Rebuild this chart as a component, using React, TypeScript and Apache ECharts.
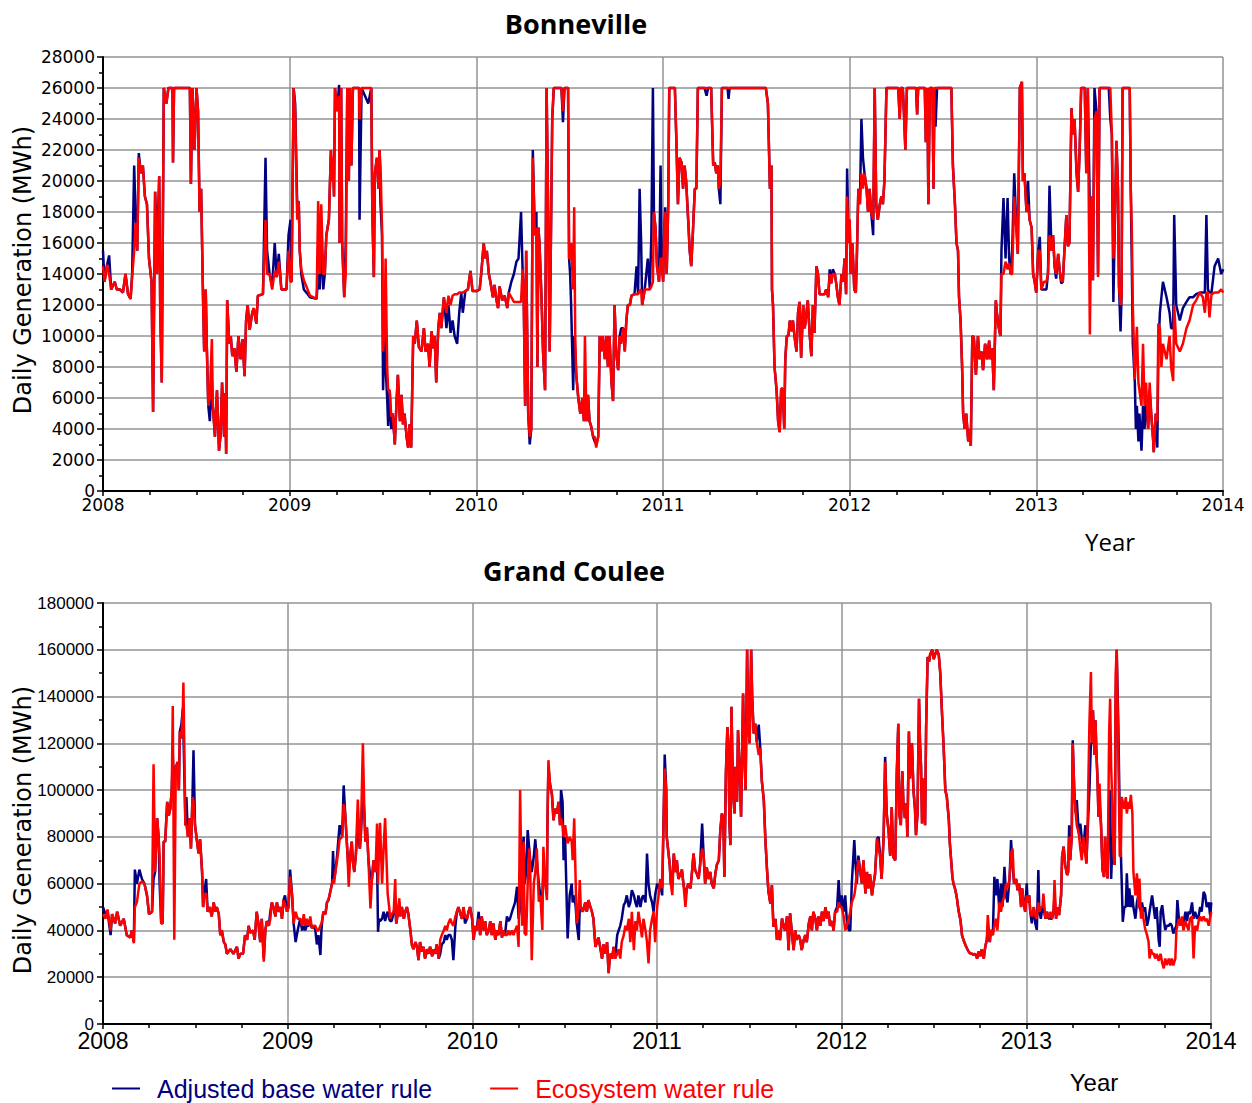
import React, { useEffect, useRef } from "react";
import * as echarts from "echarts";

// x ticks (years)
const yearTicks = [2008, 2009, 2010, 2011, 2012, 2013, 2014];
const BASE_NAME = "Adjusted base water rule";
const ECO_NAME = "Ecosystem water rule";

// Bonneville daily generation (MWh): [day since 2008-01-01, adjusted base, ecosystem]
const bon2008 = [
  [0, 15500, 14500], [3, 13500, 13500], [8, 14600, 14600], [12, 15200, 14000], [16, 13000, 13000],
  [23, 13500, 13500], [27, 13000, 13000], [33, 13000, 13000], [39, 12800, 12800], [44, 14000, 14000],
  [49, 12700, 12700], [54, 12400, 12400], [57, 14000, 13800], [61, 21000, 15500], [64, 17500, 17300],
  [67, 15500, 15500], [70, 21800, 21500], [74, 20500, 20500], [78, 21000, 21000], [82, 19000, 19000],
  [86, 18500, 18500], [90, 15000, 15000], [95, 13500, 13500], [98, 5100, 5100], [102, 19300, 19300],
  [106, 15700, 14000], [110, 20300, 20300], [112, 12000, 11000], [115, 7000, 7000], [119, 26000, 26000],
  [124, 25000, 25000], [128, 26000, 26000], [136, 26000, 26000], [137, 21200, 21200], [139, 26000, 26000],
  [170, 26000, 26000], [172, 19800, 19800], [175, 26000, 26000], [179, 22000, 22000], [183, 26000, 26000],
  [186, 24500, 24500], [189, 18000, 18000], [192, 19500, 19500], [196, 12000, 12000], [198, 9000, 9000],
  [201, 13000, 13000], [203, 9500, 9500], [206, 5500, 5500], [209, 4500, 6000], [213, 7000, 9800],
  [215, 5500, 5500], [219, 3500, 3500], [223, 6500, 6500], [227, 2600, 2600], [230, 3600, 3600],
  [233, 7000, 7000], [237, 3500, 3500], [239, 6300, 6300], [241, 2400, 2400], [243, 12300, 12300],
  [247, 9500, 9500], [250, 10000, 10000], [253, 8700, 8700], [257, 9200, 9200], [261, 7700, 7700],
  [265, 10000, 10000], [269, 8500, 8500], [273, 9800, 9800], [277, 7400, 7400], [280, 11000, 11000],
  [283, 12000, 12000], [287, 10400, 10400], [292, 11500, 11500], [295, 11800, 11800], [300, 10800, 10800],
  [303, 12600, 12600], [313, 12700, 12700], [318, 21500, 17500], [321, 15500, 14000], [326, 14000, 14000],
  [331, 13200, 13000], [336, 16000, 14200], [340, 13800, 13800], [344, 15300, 14800], [349, 13000, 13000],
  [359, 13000, 13000], [363, 16500, 15500],
];
const bon2009 = [
  [367, 17500, 13500], [369, 13500, 13500], [373, 26000, 26000], [376, 25000, 24500], [380, 18500, 17500],
  [383, 18700, 18700], [385, 15500, 15500], [388, 14000, 14300], [393, 13000, 13600], [398, 12800, 13200],
  [405, 12500, 12600], [418, 12400, 12400], [421, 14000, 18700], [424, 13000, 14000], [427, 16000, 18500],
  [431, 13000, 14000], [434, 14000, 14000], [437, 16500, 16500], [442, 17500, 17500], [446, 22000, 22000],
  [448, 20000, 20000], [450, 21500, 21500], [452, 19000, 19000], [454, 26000, 26000], [458, 24500, 24500],
  [462, 26200, 25500], [463, 16000, 16000], [466, 26000, 26000], [468, 16000, 16000], [472, 12500, 12500],
  [475, 16000, 14000], [478, 26000, 26000], [481, 20000, 20000], [483, 26000, 26000], [486, 21000, 21000],
  [489, 26000, 26000], [501, 26000, 26000], [502, 17500, 24000], [506, 26000, 26000], [519, 25000, 26000],
  [525, 26000, 26000], [527, 18000, 18000], [530, 13800, 13800], [532, 20500, 20500], [536, 21500, 21500],
  [539, 19500, 19500], [541, 22000, 22000], [543, 18500, 21000], [546, 16500, 17000], [548, 6500, 9000],
  [551, 10500, 10500], [553, 8000, 15000], [556, 6000, 8000], [558, 4200, 6500], [561, 6500, 6500],
  [564, 4000, 4800], [567, 5000, 5000], [571, 3000, 3000], [574, 5500, 5500], [577, 7500, 7500],
  [581, 4500, 4500], [584, 6200, 6200], [587, 4300, 4300], [590, 5000, 5000], [594, 3500, 3500],
  [597, 2800, 2800], [600, 4300, 4300], [603, 2800, 2800], [607, 10000, 10000], [610, 9500, 9500],
  [614, 11000, 11000], [618, 9300, 9300], [623, 9000, 9000], [628, 10500, 10500], [631, 9000, 9000],
  [636, 9500, 9500], [639, 8000, 8000], [643, 10300, 10300], [646, 9200, 9200], [649, 10000, 10000],
  [652, 7000, 7000], [656, 10500, 10500], [659, 11500, 11500], [662, 10500, 10500], [667, 12500, 12500],
  [672, 10500, 11500], [676, 12000, 12600], [680, 10200, 12000], [684, 11000, 12600], [688, 10000, 12700],
  [693, 9500, 12700], [697, 11500, 12800], [701, 12800, 12800], [704, 11500, 12800], [709, 12900, 12900],
  [714, 13000, 13000], [719, 14200, 14200], [723, 12900, 12900],
];
const bon2010 = [
  [731, 12900, 12900], [737, 13000, 13000], [740, 14000, 14000], [745, 16000, 16000], [748, 15000, 15000],
  [751, 15500, 15500], [755, 14000, 14000], [758, 13500, 13500], [763, 12500, 12500], [766, 13300, 13300],
  [770, 12300, 12300], [773, 11800, 11800], [776, 13200, 13200], [781, 12300, 12300], [786, 12600, 12600],
  [791, 11800, 11800], [794, 12800, 12800], [799, 13500, 12500], [804, 14000, 12200], [809, 14800, 12200],
  [813, 15000, 12200], [818, 18000, 12200], [821, 14300, 14300], [823, 13000, 13000], [826, 5500, 5500],
  [828, 15500, 15500], [832, 5000, 5000], [835, 3000, 3500], [838, 4000, 4000], [841, 22000, 21500],
  [845, 16500, 16500], [848, 18000, 17000], [850, 8000, 8000], [852, 17000, 17000], [854, 16000, 16000],
  [858, 12500, 12500], [861, 9000, 9000], [865, 6500, 6500], [868, 26000, 26000], [871, 18000, 18000],
  [874, 9000, 9000], [877, 18000, 18000], [879, 24000, 24000], [882, 26000, 26000], [897, 26000, 26000],
  [900, 23800, 24500], [903, 26000, 26000], [910, 26000, 26000], [912, 15000, 15000], [914, 14000, 15000],
  [916, 12000, 16000], [920, 6500, 13000], [922, 10000, 18300], [924, 9000, 10000], [926, 7500, 7500],
  [930, 6000, 6000], [934, 5000, 5000], [938, 6000, 6000], [941, 4500, 4500], [943, 5500, 10000],
  [946, 4500, 4500], [949, 6200, 6200], [952, 4500, 4500], [955, 4200, 4200], [959, 3500, 3500],
  [962, 3200, 3500], [965, 3000, 2800], [969, 3500, 3500], [972, 10000, 10000], [975, 9000, 9000],
  [978, 10000, 10000], [982, 8500, 8500], [985, 10000, 10000], [988, 8000, 8000], [991, 10000, 10000],
  [995, 7000, 7000], [998, 5800, 5800], [1001, 12000, 12000], [1004, 9000, 9000], [1008, 7800, 7800],
  [1011, 10000, 10000], [1014, 10500, 9500], [1018, 10500, 10500], [1021, 9000, 9000], [1024, 11000, 11000],
  [1027, 12000, 12000], [1031, 12000, 12000], [1034, 12600, 12600], [1040, 12700, 12700], [1044, 14500, 12700],
  [1047, 12700, 12700], [1050, 19500, 12900], [1053, 16000, 13000], [1055, 12000, 12000], [1060, 13000, 13000],
  [1066, 15000, 13000], [1070, 13000, 13000], [1073, 16500, 13200], [1076, 26000, 13500], [1078, 18000, 18000],
  [1081, 17000, 17000], [1084, 14500, 14500], [1088, 13500, 13500], [1091, 21000, 15000], [1093, 15000, 15000],
];
const bon2011 = [
  [1096, 13500, 13500], [1098, 16500, 16500], [1100, 18300, 18000], [1103, 14000, 14000], [1106, 18500, 18500],
  [1108, 26000, 26000], [1119, 26000, 26000], [1122, 22500, 22500], [1125, 18500, 18500], [1128, 21500, 21500],
  [1132, 21200, 21200], [1135, 19500, 19500], [1138, 21000, 21000], [1141, 20000, 20000], [1145, 17500, 17500],
  [1148, 15500, 15500], [1151, 14500, 14500], [1154, 16500, 16500], [1158, 19500, 19500], [1161, 19500, 19500],
  [1164, 26000, 26000], [1177, 26000, 26000], [1181, 25500, 26000], [1184, 26000, 26000], [1190, 26000, 26000],
  [1194, 21000, 21000], [1197, 21200, 21200], [1200, 20500, 20500], [1203, 21000, 21000], [1205, 19500, 19500],
  [1208, 18500, 20000], [1211, 26000, 26000], [1222, 26000, 26000], [1224, 25300, 26000], [1226, 26000, 26000],
  [1297, 26000, 26000], [1301, 25000, 25000], [1305, 19500, 19500], [1308, 21000, 21000], [1309, 13000, 13000],
  [1311, 12000, 12000], [1314, 8000, 8000], [1318, 6500, 6500], [1321, 4500, 4500], [1324, 3800, 3800],
  [1327, 6600, 6600], [1330, 6600, 6600], [1333, 4000, 4000], [1335, 8500, 8500], [1338, 10000, 10000],
  [1341, 10000, 10000], [1344, 11000, 11000], [1347, 10300, 10300], [1350, 11000, 11000], [1353, 10000, 10000],
  [1357, 9000, 9000], [1360, 11500, 11500], [1363, 12200, 12200], [1366, 8600, 8600], [1370, 12000, 12000],
  [1373, 10500, 10500], [1376, 11300, 11300], [1379, 12300, 12300], [1383, 10000, 10000], [1386, 8700, 8700],
  [1389, 12000, 12000], [1392, 10200, 10200], [1396, 14500, 14500], [1399, 14000, 14000], [1402, 12700, 12700],
  [1412, 12700, 12700], [1415, 13000, 13000], [1419, 12500, 12500], [1422, 14300, 14000], [1425, 13400, 13400],
  [1428, 14300, 14000], [1432, 14000, 14000], [1435, 13300, 13300], [1438, 12500, 12500], [1441, 12000, 12000],
  [1445, 14000, 14000], [1448, 13500, 13500], [1451, 15000, 15000], [1454, 12700, 12700], [1456, 20800, 19000],
  [1459, 16000, 16000],
];
const bon2012 = [
  [1461, 17500, 17500], [1463, 14000, 14000], [1466, 16000, 16000], [1467, 15500, 15500], [1470, 13000, 13000],
  [1473, 12800, 12800], [1475, 15000, 15000], [1478, 19500, 19500], [1481, 18500, 18500], [1484, 24000, 20500],
  [1487, 21500, 19500], [1490, 20500, 20500], [1494, 19500, 19500], [1497, 18000, 18000], [1500, 19500, 19500],
  [1503, 18000, 18000], [1507, 16500, 17500], [1510, 26000, 26000], [1513, 18500, 18500], [1516, 17500, 17500],
  [1520, 18500, 18500], [1523, 19000, 19000], [1526, 18500, 18500], [1529, 20000, 20000], [1533, 26000, 26000],
  [1556, 26000, 26000], [1559, 24000, 24000], [1561, 26000, 26000], [1565, 26000, 26000], [1567, 24500, 24500],
  [1570, 22000, 22000], [1573, 26000, 26000], [1591, 26000, 26000], [1593, 24300, 24300], [1595, 26000, 26000],
  [1608, 26000, 26000], [1610, 22500, 22500], [1613, 26000, 26000], [1615, 18500, 18500], [1618, 26000, 26000],
  [1623, 26000, 26000], [1625, 19500, 19500], [1627, 26000, 26000], [1629, 23500, 26000], [1632, 26000, 26000],
  [1660, 26000, 26000], [1663, 21000, 21000], [1667, 18500, 18500], [1670, 16000, 16000], [1673, 15500, 15500],
  [1675, 12500, 12500], [1678, 11000, 11000], [1681, 8000, 8000], [1683, 5000, 5000], [1686, 4000, 4000],
  [1689, 5000, 5000], [1693, 3200, 3200], [1696, 4000, 4000], [1698, 2900, 2900], [1701, 10000, 10000],
  [1704, 9900, 9900], [1708, 7500, 7500], [1712, 10000, 10000], [1715, 8500, 8500], [1719, 9000, 9000],
  [1722, 7800, 7800], [1726, 9500, 9500], [1730, 8500, 8500], [1734, 9700, 9700], [1736, 8500, 8500],
  [1740, 9200, 9200], [1743, 6500, 6500], [1747, 12300, 12300], [1749, 11500, 11500], [1753, 10500, 10500],
  [1756, 10000, 10000], [1758, 15500, 14000], [1762, 18900, 14000], [1766, 15000, 14800], [1770, 18900, 14300],
  [1773, 15000, 14700], [1776, 14000, 14000], [1779, 15500, 14000], [1783, 20500, 19000], [1786, 18000, 17500],
  [1790, 15300, 15300], [1794, 26000, 26000], [1798, 26400, 26400], [1800, 20000, 20000], [1803, 20500, 20500],
  [1807, 18000, 18000], [1810, 20000, 18500], [1813, 17500, 17500], [1817, 17000, 17000], [1820, 14000, 14000],
  [1823, 13500, 13500], [1826, 12800, 12800],
];
const bon2013 = [
  [1830, 15500, 15500], [1833, 16400, 15500], [1836, 13000, 13000], [1841, 13000, 13500], [1846, 13000, 13500],
  [1849, 14000, 14000], [1852, 19700, 16500], [1856, 15500, 15500], [1859, 16500, 16500], [1862, 14500, 14500],
  [1865, 13700, 14000], [1869, 15300, 15300], [1872, 14200, 14200], [1875, 13400, 13600], [1878, 13500, 13500],
  [1882, 16000, 16000], [1885, 17800, 17800], [1888, 15800, 15800], [1891, 16000, 16000], [1895, 24700, 24700],
  [1898, 23000, 23000], [1901, 24000, 24000], [1905, 20500, 20500], [1908, 19300, 19300], [1911, 22000, 22000],
  [1914, 26000, 26000], [1921, 26000, 26000], [1924, 20500, 20500], [1927, 26000, 26000], [1931, 18000, 10100],
  [1934, 19000, 19000], [1937, 13600, 13600], [1940, 26000, 24000], [1944, 24500, 24500], [1947, 14000, 13800],
  [1950, 26000, 26000], [1968, 26000, 26000], [1971, 24000, 26000], [1974, 23000, 23000], [1977, 12200, 15000],
  [1980, 17500, 17500], [1983, 22600, 22600], [1986, 19500, 19500], [1988, 13200, 13200], [1991, 10300, 12000],
  [1993, 12500, 12500], [1995, 26000, 26000], [2009, 26000, 26000], [2011, 19500, 19500], [2013, 14800, 17000],
  [2015, 9500, 12000], [2019, 7000, 7200], [2021, 4000, 9000], [2023, 5500, 10600], [2026, 3200, 7000],
  [2028, 5000, 6500], [2032, 2600, 5500], [2035, 5500, 9500], [2038, 4000, 5500], [2041, 6000, 7000],
  [2045, 4000, 4000], [2048, 6500, 7000], [2051, 5000, 5000], [2055, 3200, 3200], [2056, 2500, 2500],
  [2060, 5000, 5000], [2063, 2800, 4500], [2065, 9000, 10800], [2068, 11500, 10500], [2071, 12500, 8000],
  [2074, 13500, 9500], [2081, 12500, 8500], [2087, 11500, 10000], [2090, 10500, 8000], [2094, 10500, 7100],
  [2096, 17800, 12000], [2100, 12000, 9500], [2107, 11000, 9000], [2113, 11800, 9500], [2120, 12200, 10500],
  [2126, 12500, 11000], [2133, 12500, 12000], [2139, 12700, 12300], [2146, 12800, 12800], [2152, 12800, 12500],
  [2156, 12800, 11500], [2159, 17800, 12800], [2162, 13000, 12800], [2165, 12800, 11200], [2169, 12800, 12700],
  [2175, 14500, 12800], [2182, 15000, 12800], [2188, 14000, 13000], [2192, 14300, 12800],
];

// Grand Coulee daily generation (MWh): [day since 2008-01-01, adjusted base, ecosystem]
const gc2008 = [
  [0, 50000, 47000], [5, 47000, 45000], [9, 48000, 49000], [15, 38000, 40000], [18, 47000, 47000],
  [24, 43000, 43000], [28, 48000, 48000], [34, 42000, 42000], [41, 45000, 45000], [47, 38000, 38000],
  [54, 37000, 37000], [57, 40000, 40000], [61, 35000, 34500], [63, 66000, 50000], [67, 60000, 52000],
  [72, 66000, 60000], [77, 62000, 61000], [82, 60000, 60000], [87, 55000, 55000], [91, 47000, 47000],
  [97, 48000, 48000], [100, 62000, 111000], [103, 65000, 65000], [107, 88000, 88000], [110, 80000, 80000],
  [112, 60000, 72000], [115, 44000, 43000], [118, 43000, 43000], [120, 78000, 78000], [123, 78000, 78000],
  [127, 95000, 95000], [130, 89000, 89000], [133, 92000, 92000], [136, 100000, 100000], [138, 115000, 136000],
  [141, 100000, 36000], [144, 110000, 110000], [148, 112000, 112000], [150, 100000, 100000], [152, 125000, 125000],
  [155, 128000, 122000], [158, 135000, 135000], [159, 135000, 146000], [163, 85000, 85000], [165, 97000, 85000],
  [168, 80000, 80000], [171, 88000, 88000], [174, 75000, 75000], [177, 97000, 97000], [179, 117000, 95000],
  [182, 85000, 85000], [186, 78000, 78000], [189, 73000, 73000], [192, 79000, 79000], [196, 65000, 65000],
  [198, 50000, 50000], [200, 55000, 55000], [204, 62000, 56000], [207, 48000, 48000], [211, 50000, 50000],
  [215, 46000, 46000], [219, 52000, 52000], [222, 48000, 48000], [225, 50000, 50000], [229, 47000, 47000],
  [232, 38000, 38000], [235, 40000, 40000], [239, 35000, 35000], [242, 34000, 34000], [245, 30000, 30000],
  [252, 32000, 32000], [258, 30000, 30000], [265, 33000, 33000], [268, 28000, 28000], [272, 30000, 30000],
  [277, 30000, 30000], [281, 38000, 38000], [285, 36000, 36000], [288, 42000, 42000], [291, 39000, 39000],
  [297, 40000, 40000], [300, 36000, 36000], [304, 48000, 48000], [308, 42000, 42000], [311, 35000, 35000],
  [314, 45000, 45000], [318, 28000, 26600], [321, 40000, 40000], [324, 44000, 44000], [328, 42000, 42000],
  [331, 48000, 45000], [334, 52000, 52000], [337, 50000, 50000], [341, 46000, 46000], [344, 52000, 52000],
  [347, 48000, 48000], [351, 50000, 50000], [354, 45000, 45000], [357, 53000, 53000], [360, 55000, 51000],
  [364, 48000, 48000],
];
const gc2009 = [
  [367, 50000, 50000], [370, 66000, 63000], [374, 55000, 55000], [377, 43000, 43000], [381, 35000, 48000],
  [385, 40000, 45000], [390, 45000, 45000], [394, 40000, 42000], [397, 42000, 47000], [400, 40000, 42000],
  [403, 42000, 45000], [407, 42000, 42000], [410, 44000, 46000], [413, 41000, 41000], [417, 42000, 42000],
  [420, 40000, 42000], [423, 34000, 40000], [426, 38000, 40000], [430, 29500, 42000], [432, 40000, 43000],
  [434, 45000, 45000], [436, 48000, 48000], [440, 47000, 47000], [443, 52000, 52000], [446, 53000, 53000],
  [450, 57000, 57000], [453, 60000, 60000], [455, 74000, 62000], [457, 62000, 60000], [459, 64000, 64000],
  [463, 72000, 70000], [466, 80000, 75000], [468, 85000, 79000], [473, 80000, 80000], [476, 102000, 94000],
  [479, 90000, 90000], [483, 75000, 75000], [486, 65000, 58700], [489, 72000, 72000], [492, 78000, 78000],
  [494, 70000, 70000], [497, 65000, 65000], [500, 72000, 72000], [504, 85000, 96000], [508, 75000, 75000],
  [510, 80700, 80700], [512, 90000, 100000], [514, 100000, 120000], [517, 90000, 90000], [519, 78000, 78000],
  [522, 84000, 84000], [525, 70000, 70000], [529, 62000, 49400], [532, 62000, 62000], [535, 70000, 70000],
  [539, 65000, 65000], [542, 72000, 85700], [544, 39400, 60000], [546, 45000, 75000], [548, 44000, 86000],
  [552, 45000, 60000], [555, 48000, 75000], [558, 44000, 88000], [560, 46000, 75000], [563, 48000, 55800],
  [566, 45000, 50000], [568, 44000, 45000], [571, 44000, 47000], [575, 48000, 48000], [578, 50000, 62000],
  [580, 43000, 43000], [583, 47000, 47000], [586, 52000, 53700], [588, 46000, 46000], [591, 50000, 50000],
  [595, 45000, 45000], [598, 48000, 48000], [601, 50000, 50000], [604, 47000, 47000], [608, 40000, 40000],
  [611, 33700, 33700], [614, 32000, 32000], [618, 35000, 35000], [621, 33000, 33000], [624, 27300, 27300],
  [627, 35000, 35000], [631, 31000, 31000], [634, 33000, 33000], [637, 28000, 28000], [641, 32000, 32000],
  [644, 30000, 30000], [647, 33000, 33000], [651, 29000, 29000], [654, 32000, 32000], [657, 30000, 30000],
  [660, 34000, 34000], [664, 28000, 28000], [667, 30000, 36000], [670, 34000, 38000], [674, 35000, 40000],
  [677, 38000, 42000], [680, 36000, 40000], [683, 38000, 43000], [687, 38000, 45000], [690, 36000, 43000],
  [693, 27300, 42000], [697, 42000, 46000], [700, 48000, 48000], [703, 50000, 50000], [707, 47000, 47000],
  [710, 45000, 45000], [713, 50000, 50000], [716, 43000, 46000], [720, 45000, 45000], [723, 48000, 48000],
  [726, 50000, 50000],
];
const gc2010 = [
  [730, 45000, 45000], [733, 36000, 36000], [736, 42000, 42000], [739, 40000, 40000], [743, 48000, 45000],
  [746, 38000, 38000], [749, 46000, 46000], [753, 40000, 40000], [756, 44000, 44000], [759, 38000, 38000],
  [763, 40000, 40000], [766, 44000, 44000], [769, 38000, 38000], [772, 43000, 43000], [776, 36000, 36000],
  [779, 40000, 40000], [782, 38000, 38000], [786, 44000, 44000], [789, 37000, 37000], [792, 40000, 40000],
  [795, 38000, 38000], [799, 46000, 38000], [802, 44000, 40000], [805, 45000, 38000], [809, 48000, 40000],
  [812, 50000, 38000], [815, 52000, 40000], [819, 58700, 42000], [822, 45000, 33000], [825, 50000, 100000],
  [829, 72000, 42000], [832, 80000, 78000], [834, 60000, 38700], [837, 65000, 38000], [840, 82900, 60000],
  [843, 75000, 75000], [845, 70000, 65800], [848, 65000, 27300], [852, 71500, 60000], [855, 79000, 65000],
  [858, 70000, 75000], [862, 60000, 52300], [865, 55000, 55000], [869, 55000, 40200], [871, 65000, 75800],
  [875, 60000, 60000], [878, 55000, 53000], [879, 85000, 85000], [881, 110000, 112800], [884, 102800, 102800],
  [888, 98000, 98000], [891, 87100, 87100], [894, 92000, 92000], [898, 90000, 90000], [901, 95000, 95000],
  [904, 85000, 85000], [906, 100000, 88000], [909, 95000, 85000], [911, 70000, 80000], [914, 80000, 85000],
  [919, 36600, 77200], [923, 55000, 80000], [927, 60000, 78000], [929, 52000, 70000], [932, 55000, 87900],
  [935, 50000, 60000], [937, 43000, 43000], [941, 35900, 50000], [943, 50000, 61500], [945, 50000, 50000],
  [949, 48000, 48000], [954, 52000, 52000], [957, 48000, 48000], [960, 53000, 53000], [964, 50100, 50100],
  [967, 48000, 48000], [970, 45000, 45000], [974, 33000, 33000], [977, 35000, 35000], [980, 37000, 37000],
  [984, 32000, 32000], [987, 28000, 28000], [990, 34000, 34000], [994, 30000, 30000], [997, 35000, 35000],
  [1000, 22000, 21600], [1003, 30000, 30000], [1007, 28000, 28000], [1010, 33000, 33000], [1013, 28000, 28000],
  [1017, 38000, 30000], [1020, 40000, 32000], [1023, 42000, 28000], [1026, 45000, 35000], [1030, 50800, 38000],
  [1033, 52000, 42000], [1036, 55000, 40000], [1040, 50000, 45000], [1043, 52000, 35000], [1046, 57200, 48000],
  [1050, 55000, 31600], [1053, 52000, 44000], [1056, 50000, 40000], [1059, 55000, 48000], [1063, 50000, 42000],
  [1066, 54000, 37000], [1069, 55000, 45000], [1073, 52000, 40000], [1076, 72900, 35000], [1079, 60000, 25900],
  [1082, 55000, 40000], [1086, 52000, 45000], [1089, 48000, 48000], [1092, 55000, 35000],
];
const gc2011 = [
  [1096, 60000, 50000], [1099, 58000, 55000], [1102, 60000, 62000], [1106, 55000, 58000], [1111, 115200, 109200],
  [1114, 100000, 100000], [1115, 80000, 80000], [1119, 72000, 72000], [1121, 68000, 68000], [1123, 60100, 60100],
  [1126, 60000, 55100], [1129, 72900, 72900], [1132, 65000, 65000], [1135, 70000, 70000], [1138, 62000, 62000],
  [1142, 64000, 64000], [1145, 66000, 66000], [1148, 60000, 60000], [1152, 55000, 50100], [1155, 58000, 58000],
  [1158, 60100, 60100], [1162, 58000, 58000], [1165, 65000, 65000], [1168, 72900, 72900], [1171, 66000, 66000],
  [1175, 64000, 64000], [1178, 62000, 62000], [1181, 68000, 68000], [1185, 85700, 75000], [1188, 72000, 72000],
  [1191, 60000, 60000], [1194, 67000, 67000], [1198, 62000, 62000], [1201, 65000, 65000], [1204, 60000, 60000],
  [1208, 58000, 58000], [1211, 64000, 64000], [1214, 68000, 68000], [1218, 70000, 70000], [1221, 82900, 82900],
  [1224, 90000, 90000], [1227, 88000, 88000], [1229, 62900, 62900], [1232, 107100, 107100], [1235, 127000, 127000],
  [1237, 120000, 120000], [1239, 85700, 85700], [1241, 76500, 76500], [1243, 135600, 135600], [1246, 100000, 100000],
  [1249, 90000, 90000], [1251, 110000, 110000], [1254, 95000, 95000], [1256, 125600, 125600], [1259, 110000, 110000],
  [1262, 88600, 88600], [1266, 141300, 141300], [1268, 118000, 118000], [1271, 100000, 100000], [1274, 160000, 160000],
  [1276, 128400, 128400], [1279, 120000, 120000], [1282, 160000, 160000], [1284, 140000, 140000], [1287, 124200, 124200],
  [1290, 128400, 128400], [1293, 120600, 120600], [1297, 128000, 115000], [1300, 118000, 118000], [1303, 104200, 104200],
  [1307, 95700, 95700], [1310, 79300, 79300], [1313, 67200, 67200], [1316, 57000, 57000], [1320, 51500, 51500],
  [1323, 59400, 59400], [1326, 41600, 41600], [1330, 45000, 45000], [1333, 36000, 36000], [1336, 40000, 40000],
  [1339, 35900, 35900], [1343, 45100, 45100], [1346, 42000, 42000], [1349, 40000, 40000], [1353, 46000, 46000],
  [1356, 31600, 31600], [1359, 47300, 47300], [1363, 38000, 38000], [1366, 31600, 31600], [1369, 40000, 40000],
  [1372, 36000, 36000], [1376, 38000, 38000], [1379, 36000, 36000], [1382, 31600, 31600], [1386, 36000, 36000],
  [1389, 38000, 38000], [1392, 35000, 35000], [1396, 43000, 43000], [1399, 46000, 46000], [1402, 40000, 40000],
  [1405, 48000, 48000], [1409, 45000, 45000], [1412, 40000, 40000], [1415, 46000, 46000], [1419, 42000, 42000],
  [1422, 48000, 48000], [1425, 44000, 44000], [1429, 50000, 50000], [1432, 45000, 45000], [1435, 48000, 48000],
  [1438, 42000, 42000], [1442, 44000, 44000], [1445, 40000, 40000], [1448, 48000, 48000], [1452, 50000, 48000],
  [1455, 61500, 52000], [1458, 50000, 50000],
];
const gc2012 = [
  [1461, 55000, 50000], [1465, 48000, 46000], [1468, 55000, 40000], [1471, 45000, 42000], [1475, 40200, 45000],
  [1478, 40000, 48000], [1481, 60000, 52000], [1486, 78600, 55000], [1488, 70000, 58000], [1491, 60000, 65000],
  [1494, 72000, 70000], [1498, 65000, 65000], [1501, 60000, 60000], [1504, 70000, 70000], [1508, 55800, 55800],
  [1511, 65000, 65000], [1514, 58000, 58000], [1517, 64000, 64000], [1521, 55000, 55000], [1524, 60000, 60000],
  [1527, 64000, 64000], [1531, 79300, 79300], [1534, 80000, 75000], [1537, 72000, 72000], [1540, 62000, 62000],
  [1544, 80000, 80000], [1547, 114200, 112000], [1550, 90000, 90000], [1554, 82000, 82000], [1557, 72000, 72000],
  [1560, 92800, 92800], [1563, 71500, 71500], [1567, 70000, 70000], [1570, 107100, 107100], [1573, 128400, 128400],
  [1575, 90000, 90000], [1578, 85000, 85000], [1581, 108000, 108000], [1583, 95000, 95000], [1586, 88000, 88000],
  [1589, 94300, 94300], [1591, 80000, 80000], [1594, 125000, 125000], [1596, 105000, 105000], [1600, 120000, 120000],
  [1603, 100000, 100000], [1606, 92000, 92000], [1608, 80700, 80700], [1611, 90000, 90000], [1614, 139100, 139100],
  [1616, 120000, 120000], [1618, 110000, 110000], [1620, 85700, 85700], [1623, 105000, 105000], [1626, 85000, 85000],
  [1628, 126300, 126300], [1631, 156900, 156900], [1634, 155000, 155000], [1636, 158000, 158000], [1640, 160000, 160000],
  [1643, 156000, 156000], [1646, 158000, 158000], [1649, 160000, 160000], [1653, 158000, 158000], [1656, 150000, 150000],
  [1659, 135000, 135000], [1663, 117000, 117000], [1666, 100000, 100000], [1669, 97100, 97100], [1673, 87100, 87100],
  [1675, 77200, 77200], [1677, 71500, 71500], [1680, 62900, 62900], [1682, 60100, 60100], [1686, 57200, 57200],
  [1689, 53700, 53700], [1692, 48700, 48700], [1696, 44400, 44400], [1699, 38000, 38000], [1702, 35900, 35900],
  [1706, 33700, 33700], [1709, 32300, 32300], [1712, 31000, 31000], [1715, 30200, 30200], [1719, 30000, 30000],
  [1722, 29500, 29500], [1725, 30000, 30000], [1729, 28000, 28000], [1732, 31000, 31000], [1735, 29000, 29000],
  [1738, 32000, 32000], [1742, 28000, 28000], [1745, 33000, 33000], [1748, 35900, 35900], [1750, 40000, 46600],
  [1754, 35000, 35000], [1756, 40200, 40200], [1760, 38000, 38000], [1763, 62900, 42000], [1766, 55000, 45000],
  [1769, 62000, 40000], [1773, 48000, 52000], [1776, 60000, 48000], [1779, 50000, 52000], [1783, 67200, 55000],
  [1786, 55000, 60000], [1789, 52000, 58000], [1793, 62000, 62000], [1796, 78600, 72900], [1799, 68000, 75000],
  [1802, 60000, 60000], [1806, 62000, 62000], [1809, 57200, 57200], [1812, 60000, 60000], [1816, 50000, 50000],
  [1818, 58000, 58000], [1821, 52000, 52000], [1824, 48000, 48000],
];
const gc2013 = [
  [1827, 60100, 55000], [1829, 52000, 52000], [1832, 55000, 55000], [1834, 48000, 48000], [1837, 43000, 46000],
  [1841, 50000, 50000], [1844, 43000, 46000], [1847, 40200, 45000], [1850, 65800, 52000], [1852, 48000, 48000],
  [1855, 45000, 50000], [1858, 50000, 50000], [1860, 50000, 55800], [1864, 45000, 45000], [1867, 48000, 48000],
  [1870, 45100, 45100], [1874, 45100, 48000], [1877, 45000, 45000], [1880, 48000, 48000], [1882, 55000, 61500],
  [1885, 45000, 45000], [1888, 50000, 50000], [1891, 46600, 46600], [1895, 55000, 55000], [1897, 71500, 71500],
  [1900, 75800, 75800], [1903, 68000, 68000], [1907, 63700, 63700], [1909, 65000, 65000], [1911, 85000, 80000],
  [1913, 70000, 70000], [1916, 80000, 80000], [1918, 121300, 119900], [1921, 100000, 100000], [1924, 90000, 90000],
  [1926, 95700, 85000], [1930, 81500, 81500], [1933, 85700, 75000], [1936, 79300, 70000], [1939, 75000, 80000],
  [1943, 85000, 72000], [1945, 68600, 68600], [1947, 80000, 80000], [1951, 100000, 128400], [1954, 120000, 150500],
  [1956, 120000, 120000], [1958, 134100, 134100], [1961, 115000, 115000], [1963, 129900, 129900], [1965, 115000, 115000],
  [1967, 105000, 105000], [1969, 88600, 88600], [1971, 95000, 102800], [1974, 85000, 85000], [1977, 65800, 65800],
  [1980, 62900, 62900], [1982, 80000, 80000], [1984, 70000, 70000], [1987, 62200, 62200], [1990, 95000, 124200],
  [1992, 100000, 139100], [1994, 62000, 110000], [1997, 80000, 90000], [1999, 71500, 71500], [2001, 68000, 68000],
  [2003, 140000, 150000], [2005, 160000, 160000], [2008, 130000, 120000], [2011, 88600, 72000], [2013, 75000, 71500],
  [2015, 60000, 97100], [2017, 43700, 95000], [2020, 50000, 92000], [2023, 50000, 97000], [2025, 64400, 90000],
  [2028, 50000, 95000], [2030, 58000, 92000], [2033, 50000, 98000], [2036, 55000, 90000], [2038, 50000, 65000],
  [2042, 45000, 55000], [2045, 52000, 64400], [2048, 55000, 50000], [2050, 50000, 62200], [2053, 48000, 45000],
  [2055, 52000, 50000], [2058, 48000, 45000], [2061, 50000, 40900], [2065, 42000, 38000], [2068, 45000, 35200],
  [2070, 48000, 28000], [2073, 52300, 32000], [2075, 55000, 30000], [2078, 50000, 30200], [2081, 45000, 28000],
  [2084, 50000, 30000], [2088, 35900, 27000], [2090, 33000, 29000], [2092, 48000, 30000], [2095, 50800, 26000],
  [2098, 45000, 23800], [2101, 40200, 28000], [2104, 42000, 25200], [2108, 42000, 28000], [2111, 43000, 25000],
  [2114, 42000, 28000], [2117, 38700, 25000], [2121, 41000, 28000], [2123, 42000, 40000], [2125, 53000, 42000],
  [2128, 45000, 45000], [2131, 42000, 42000], [2134, 45000, 46000], [2137, 43000, 40000], [2141, 48000, 44000],
  [2144, 44000, 42000], [2147, 48000, 40000], [2150, 47000, 45000], [2154, 52000, 46000], [2157, 45000, 28000],
  [2160, 48000, 42000], [2164, 45000, 40000], [2167, 46000, 44000], [2170, 50000, 46000], [2173, 48000, 44000],
  [2177, 56500, 46000], [2180, 55000, 44000], [2183, 50000, 45000], [2187, 52000, 42000], [2190, 46000, 46000],
  [2192, 52000, 48000],
];

const BLUE = "#000080";
const RED = "#ff0000";
const GRIDLINE = "#939393";

export default function App() {
  const ref = useRef<HTMLDivElement>(null);

  useEffect(() => {
    document.body.style.margin = "0";
    const chart = echarts.init(ref.current!, null, { renderer: "svg" });
    const toX = (d: number) => 2008 + d / 365.25;
    const bon = [...bon2008, ...bon2009, ...bon2010, ...bon2011, ...bon2012, ...bon2013];
    const gc = [...gc2008, ...gc2009, ...gc2010, ...gc2011, ...gc2012, ...gc2013];
    const fmt = (v: number) => String(v);

    const xAxisCommon = (grid: number, font: string, size: number) => ({
      gridIndex: grid,
      type: "value",
      min: yearTicks[0],
      max: yearTicks[yearTicks.length - 1],
      interval: 1,
      axisLine: { show: true, onZero: false, lineStyle: { color: "#000", width: 2 } },
      axisTick: { show: true, length: 5, lineStyle: { color: "#000", width: 1.5 } },
      minorTick: { show: true, splitNumber: 4, length: 4, lineStyle: { color: "#000", width: 1.5 } },
      axisLabel: { fontFamily: font, fontSize: size, color: "#000", margin: 5, formatter: fmt },
      splitLine: { show: true, lineStyle: { color: GRIDLINE, width: 1.5 } },
    });
    const yAxisCommon = (grid: number, max: number, interval: number, font: string, margin: number) => ({
      gridIndex: grid,
      type: "value",
      min: 0,
      max,
      interval,
      axisLine: { show: true, onZero: false, lineStyle: { color: "#000", width: 2 } },
      axisTick: { show: true, length: 6, lineStyle: { color: "#000", width: 1.5 } },
      minorTick: { show: true, splitNumber: 2, length: 4, lineStyle: { color: "#000", width: 1.5 } },
      axisLabel: { fontFamily: font, fontSize: 17, color: "#000", margin, formatter: fmt },
      splitLine: { show: true, lineStyle: { color: GRIDLINE, width: 1.5 } },
    });
    const line = (name: string, color: string, xi: number, data: number[][], col: number, z: number) => ({
      name,
      type: "line",
      xAxisIndex: xi,
      yAxisIndex: xi,
      data: data.map((r) => [toX(r[0]), r[col]]),
      showSymbol: false,
      symbol: "none",
      lineStyle: { color, width: 2.5 },
      itemStyle: { color },
      z,
    });

    chart.setOption({
      animation: false,
      backgroundColor: "#fff",
      title: [
        {
          text: "Bonneville",
          left: 571,
          top: 5,
          textAlign: "center",
          textStyle: { fontFamily: "Open Sans", fontWeight: "bold", fontSize: 27, color: "#000" },
        },
        {
          text: "Grand Coulee",
          left: 569,
          top: 552,
          textAlign: "center",
          textStyle: { fontFamily: "Open Sans", fontWeight: "bold", fontSize: 27, color: "#000" },
        },
      ],
      grid: [
        { left: 103, top: 57, width: 1120, height: 434 },
        { left: 103, top: 603, width: 1108, height: 421 },
      ],
      xAxis: [xAxisCommon(0, "DejaVu Sans", 17), xAxisCommon(1, "Liberation Sans", 23)],
      yAxis: [
        yAxisCommon(0, 28000, 2000, "DejaVu Sans", 8),
        yAxisCommon(1, 180000, 20000, "Liberation Sans", 9),
      ],
      legend: {
        show: true,
        left: 107,
        top: 1071,
        itemWidth: 28,
        itemHeight: 2,
        itemGap: 58,
        icon: "rect",
        textStyle: { fontFamily: "Liberation Sans", fontSize: 25, padding: [0, 0, 0, 12] },
        data: [
          { name: BASE_NAME, textStyle: { color: BLUE } },
          { name: ECO_NAME, textStyle: { color: RED } },
        ],
      },
      graphic: [
        {
          type: "text",
          x: 23,
          y: 270,
          rotation: Math.PI / 2,
          style: {
            text: "Daily Generation (MWh)",
            fontFamily: "DejaVu Sans",
            fontSize: 24,
            fill: "#000",
            align: "center",
            verticalAlign: "middle",
          },
        },
        {
          type: "text",
          x: 23,
          y: 830,
          rotation: Math.PI / 2,
          style: {
            text: "Daily Generation (MWh)",
            fontFamily: "DejaVu Sans",
            fontSize: 24,
            fill: "#000",
            align: "center",
            verticalAlign: "middle",
          },
        },
        {
          type: "text",
          x: 1110,
          y: 541,
          style: {
            text: "Year",
            fontFamily: "Open Sans",
            fontSize: 24,
            fill: "#000",
            align: "center",
            verticalAlign: "middle",
          },
        },
        {
          type: "text",
          x: 1094,
          y: 1082,
          style: {
            text: "Year",
            fontFamily: "Liberation Sans",
            fontSize: 24,
            fill: "#000",
            align: "center",
            verticalAlign: "middle",
          },
        },
      ],
      series: [
        line(BASE_NAME, BLUE, 0, bon, 1, 2),
        line(ECO_NAME, RED, 0, bon, 2, 3),
        line(BASE_NAME, BLUE, 1, gc, 1, 2),
        line(ECO_NAME, RED, 1, gc, 2, 3),
      ],
    });

    return () => chart.dispose();
  }, []);

  return <div ref={ref} style={{ width: 1252, height: 1103 }} />;
}
